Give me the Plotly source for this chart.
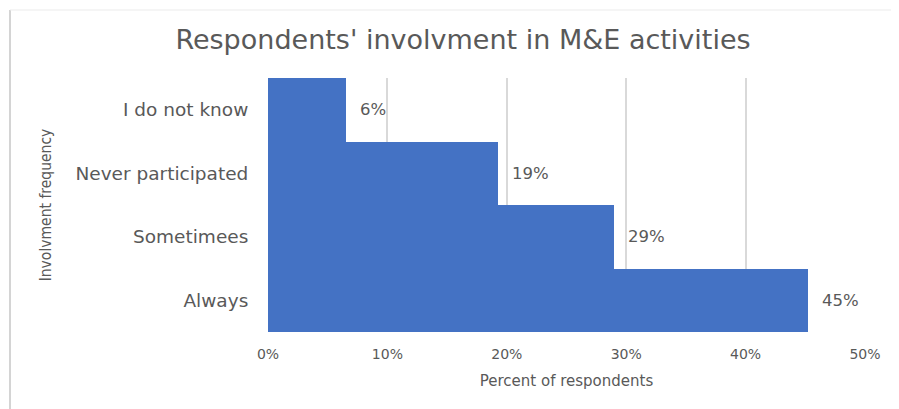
import plotly.graph_objects as go

categories = ["Always", "Sometimees", "Never participated", "I do not know"]
values = [45.2, 29.0, 19.3, 6.5]
labels = ["45%", "29%", "19%", "6%"]
tick_vals = [0, 10, 20, 30, 40, 50]
tick_text = ["0%", "10%", "20%", "30%", "40%", "50%"]

# page is offset by the browser's 8px body margin
W, H = 891, 401
ml, mr, mt, mb = 260, 34, 70, 77
grey = "#595959"
FONT = "DejaVu Sans"

fig = go.Figure()
fig.add_trace(go.Bar(
    y=categories, x=values, orientation="h",
    marker=dict(color="#4472C4", line=dict(width=0)),
    hoverinfo="skip",
))
for c, v, t in zip(categories, values, labels):
    fig.add_annotation(x=v, y=c, text=t, showarrow=False, xanchor="left",
                       xshift=12, font=dict(family=FONT, size=16.5, color=grey))

pw = W - ml - mr
ph = H - mt - mb
bx, by = 2, 2
fig.add_shape(type="line", xref="paper", yref="paper",
              x0=(bx - ml) / pw, x1=(bx - ml) / pw,
              y0=(H - by - mb) / ph, y1=(0 - mb - 5) / ph,
              line=dict(color="#d4d4d4", width=2))
fig.add_shape(type="line", xref="paper", yref="paper",
              x0=(bx - ml) / pw, x1=(W + 5 - ml) / pw,
              y0=(H - by - mb) / ph, y1=(H - by - mb) / ph,
              line=dict(color="#ebebeb", width=1))

fig.update_layout(
    width=W, height=H,
    margin=dict(l=ml, r=mr, t=mt, b=mb),
    paper_bgcolor="white", plot_bgcolor="white",
    bargap=0,
    showlegend=False,
    title=dict(text="Respondents' involvment in M&E activities",
               x=455 / W, xanchor="center", y=1 - 32 / H, yanchor="middle",
               font=dict(family=FONT, size=27, color=grey)),
    xaxis=dict(range=[0, 50], tickvals=tick_vals, ticktext=tick_text,
               showgrid=True, gridcolor="#d9d9d9", gridwidth=1.5,
               zeroline=False, showline=False,
               ticks="outside", ticklen=9, tickcolor="rgba(0,0,0,0)",
               tickfont=dict(family=FONT, size=14, color=grey),
               title=dict(text="Percent of respondents", standoff=14,
                          font=dict(family=FONT, size=15, color=grey))),
    yaxis=dict(showgrid=False, zeroline=False, showline=False,
               ticks="outside", ticklen=15, tickcolor="rgba(0,0,0,0)",
               tickfont=dict(family=FONT, size=18.5, color=grey),
               title=dict(text="Involvment frequency", standoff=19,
                          font=dict(family="DejaVu Sans Condensed, Roboto Condensed, Roboto", size=15.5, color=grey))),
)

fig.write_html("out.html")
